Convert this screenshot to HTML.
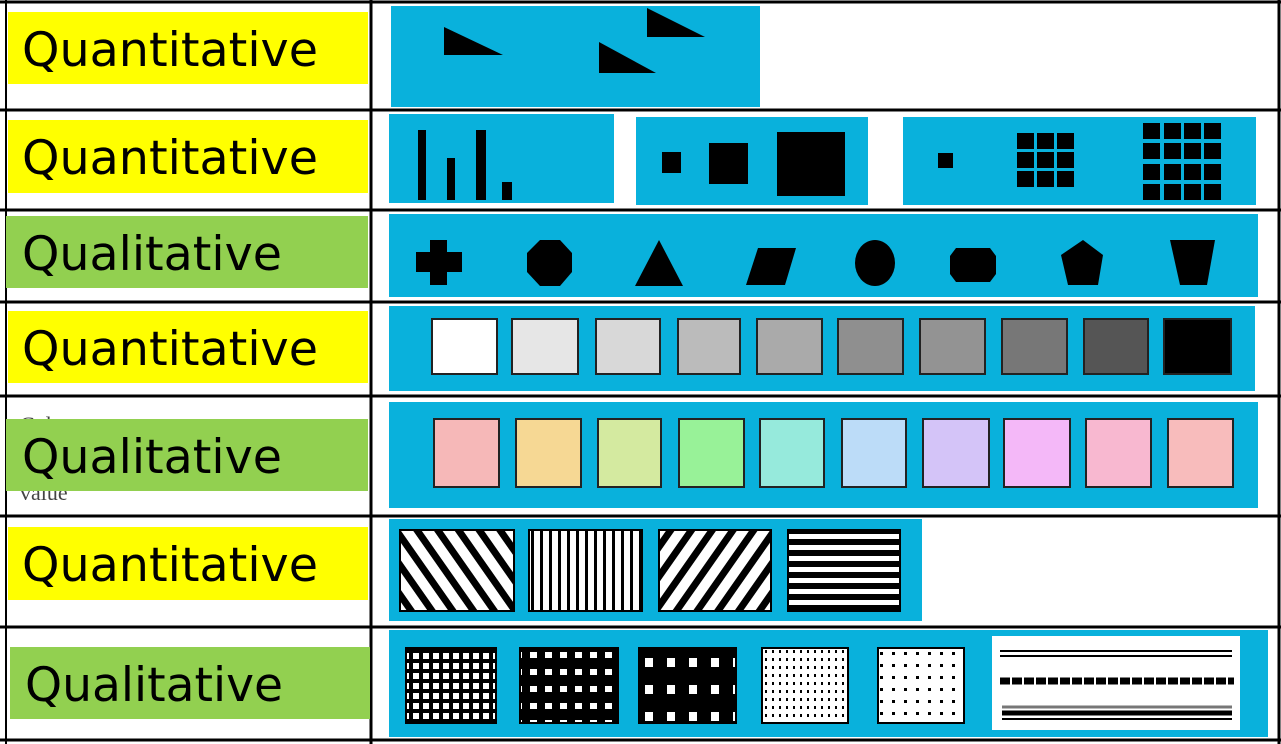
<!DOCTYPE html><html><head><style>body{margin:0;background:#fff}svg{display:block}</style></head><body>
<svg width="1281" height="744" viewBox="0 0 1281 744" xmlns="http://www.w3.org/2000/svg">
<defs>
<pattern id="d1" width="17" height="17" patternUnits="userSpaceOnUse" patternTransform="rotate(-35)"><rect width="17" height="17" fill="#fff"/><rect width="7" height="17" fill="#000"/></pattern>
<pattern id="d2" width="17" height="17" patternUnits="userSpaceOnUse" patternTransform="rotate(35)"><rect width="17" height="17" fill="#fff"/><rect width="7" height="17" fill="#000"/></pattern>
<pattern id="vv" width="9" height="10" patternUnits="userSpaceOnUse"><rect width="9" height="10" fill="#fff"/><rect width="3" height="10" fill="#000"/></pattern>
<pattern id="hh" width="10" height="11" patternUnits="userSpaceOnUse"><rect width="10" height="11" fill="#fff"/><rect width="10" height="6" fill="#000"/></pattern>
<pattern id="g1" width="10" height="10" patternUnits="userSpaceOnUse"><rect width="10" height="10" fill="#000"/><rect x="3" y="3" width="6" height="6" fill="#fff"/></pattern>
<pattern id="g2" width="15" height="17" patternUnits="userSpaceOnUse"><rect width="15" height="17" fill="#000"/><rect x="5" y="6" width="7" height="6" fill="#fff"/></pattern>
<pattern id="g3" width="22" height="27" patternUnits="userSpaceOnUse"><rect width="22" height="27" fill="#000"/><rect x="7" y="10" width="8" height="9" fill="#fff"/></pattern>
<pattern id="p1" width="7" height="8" patternUnits="userSpaceOnUse"><rect width="7" height="8" fill="#fff"/><rect x="2" y="2" width="2" height="3" fill="#000"/></pattern>
<pattern id="p2" width="12" height="12" patternUnits="userSpaceOnUse"><rect width="12" height="12" fill="#fff"/><rect x="4" y="4" width="3" height="3" fill="#000"/></pattern>
</defs>
<g fill="none" stroke="#000" stroke-width="3">
<line x1="0" y1="2" x2="1281" y2="2"/><line x1="0" y1="110" x2="1281" y2="110"/><line x1="0" y1="210" x2="1281" y2="210"/><line x1="0" y1="302" x2="1281" y2="302"/><line x1="0" y1="396" x2="1281" y2="396"/><line x1="0" y1="516" x2="1281" y2="516"/><line x1="0" y1="627" x2="1281" y2="627"/><line x1="0" y1="740" x2="1281" y2="740"/>
<line x1="371" y1="0" x2="371" y2="744"/><line x1="1279" y1="0" x2="1279" y2="744"/><line x1="6" y1="0" x2="6" y2="744" stroke-width="2"/>
</g>
<g fill="#09b1dc">
<rect x="391" y="6" width="369" height="101"/>
<rect x="389" y="114" width="225" height="89"/><rect x="636" y="117" width="232" height="88"/><rect x="903" y="117" width="353" height="88"/>
<rect x="389" y="214" width="869" height="83"/>
<rect x="389" y="306" width="866" height="85"/>
<rect x="389" y="402" width="869" height="106"/>
<rect x="389" y="519" width="533" height="102"/>
<rect x="389" y="630" width="879" height="107"/>
</g>
<g fill="#000">
<polygon points="444,27 444,55 503,55"/><polygon points="599,42 599,73 656,73"/><polygon points="647,8 647,37 705,37"/>
<rect x="418" y="130" width="8" height="70"/><rect x="447" y="158" width="8" height="42"/><rect x="476" y="130" width="10" height="70"/><rect x="502" y="182" width="10" height="18"/>
<rect x="662" y="152" width="19" height="21"/><rect x="709" y="143" width="39" height="41"/><rect x="777" y="132" width="68" height="64"/>
<rect x="938" y="153" width="15" height="15"/>
</g>
<g fill="#000">
<rect x="1017" y="133" width="17" height="16"/><rect x="1037" y="133" width="17" height="16"/><rect x="1057" y="133" width="17" height="16"/>
<rect x="1017" y="152" width="17" height="16"/><rect x="1037" y="152" width="17" height="16"/><rect x="1057" y="152" width="17" height="16"/>
<rect x="1017" y="171" width="17" height="16"/><rect x="1037" y="171" width="17" height="16"/><rect x="1057" y="171" width="17" height="16"/>
<rect x="1143" y="123" width="17" height="16"/><rect x="1164" y="123" width="17" height="16"/><rect x="1184" y="123" width="17" height="16"/><rect x="1204" y="123" width="17" height="16"/>
<rect x="1143" y="143" width="17" height="16"/><rect x="1164" y="143" width="17" height="16"/><rect x="1184" y="143" width="17" height="16"/><rect x="1204" y="143" width="17" height="16"/>
<rect x="1143" y="164" width="17" height="16"/><rect x="1164" y="164" width="17" height="16"/><rect x="1184" y="164" width="17" height="16"/><rect x="1204" y="164" width="17" height="16"/>
<rect x="1143" y="184" width="17" height="16"/><rect x="1164" y="184" width="17" height="16"/><rect x="1184" y="184" width="17" height="16"/><rect x="1204" y="184" width="17" height="16"/>
</g>
<g fill="#000">
<polygon points="430,240 447,240 447,252 462,252 462,272 447,272 447,285 430,285 430,272 416,272 416,252 430,252"/>
<polygon points="540,240 560,240 572,253 572,272 560,286 540,286 527,272 527,253"/>
<polygon points="659,240 683,286 635,286"/>
<polygon points="758,248 796,248 785,285 746,285"/>
<ellipse cx="875" cy="263" rx="20" ry="23"/>
<polygon points="956,248 990,248 996,256 996,274 990,282 956,282 950,274 950,256"/>
<polygon points="1083,240 1103,255 1098,285 1068,285 1061,255"/>
<polygon points="1170,240 1215,240 1207,285 1180,285"/>
</g>
<g stroke="#222" stroke-width="2">
<rect x="432" y="319" width="65" height="55" fill="#fff"/><rect x="512" y="319" width="66" height="55" fill="#e6e6e6"/><rect x="596" y="319" width="64" height="55" fill="#d8d8d8"/><rect x="678" y="319" width="62" height="55" fill="#bbb"/><rect x="757" y="319" width="65" height="55" fill="#aaa"/><rect x="838" y="319" width="65" height="55" fill="#8f8f8f"/><rect x="920" y="319" width="65" height="55" fill="#939393"/><rect x="1002" y="319" width="65" height="55" fill="#777"/><rect x="1084" y="319" width="64" height="55" fill="#555"/><rect x="1164" y="319" width="67" height="55" fill="#000"/>
<rect x="434" y="419" width="65" height="68" fill="#f6b8b8"/><rect x="516" y="419" width="65" height="68" fill="#f6d894"/><rect x="598" y="419" width="63" height="68" fill="#d4eaa0"/><rect x="679" y="419" width="65" height="68" fill="#98f298"/><rect x="760" y="419" width="64" height="68" fill="#96eadc"/><rect x="842" y="419" width="64" height="68" fill="#bcdcf8"/><rect x="923" y="419" width="66" height="68" fill="#d4c4f8"/><rect x="1004" y="419" width="66" height="68" fill="#f4b8f8"/><rect x="1086" y="419" width="65" height="68" fill="#f8b8d0"/><rect x="1168" y="419" width="65" height="68" fill="#f8bcbc"/>
</g>
<g stroke="#000" stroke-width="2">
<rect x="400" y="530" width="114" height="81" fill="url(#d1)"/><rect x="529" y="530" width="113" height="81" fill="url(#vv)"/><rect x="659" y="530" width="112" height="81" fill="url(#d2)"/><rect x="788" y="530" width="112" height="81" fill="url(#hh)"/>
<rect x="406" y="648" width="90" height="75" fill="url(#g1)"/><rect x="520" y="648" width="98" height="75" fill="url(#g2)"/><rect x="639" y="648" width="97" height="75" fill="url(#g3)"/><rect x="762" y="648" width="86" height="75" fill="url(#p1)"/><rect x="878" y="648" width="86" height="75" fill="url(#p2)"/>
</g>
<rect x="992" y="636" width="248" height="94" fill="#fff"/>
<g stroke="#000">
<line x1="1000" y1="651" x2="1232" y2="651" stroke-width="2"/><line x1="1000" y1="656" x2="1232" y2="656" stroke-width="2"/>
<line x1="1000" y1="681" x2="1234" y2="681" stroke-width="7" stroke-dasharray="10 2"/>
<line x1="1002" y1="707" x2="1232" y2="707" stroke-width="3" stroke="#777"/><line x1="1002" y1="713" x2="1232" y2="713" stroke-width="5"/><line x1="1002" y1="719" x2="1232" y2="719" stroke-width="2"/>
</g>
<text x="20" y="432" font-family="Liberation Serif,serif" font-size="22" fill="#444">Colour</text>
<text x="20" y="500" font-family="Liberation Serif,serif" font-size="22" fill="#444">value</text>
<g font-family="DejaVu Sans, Liberation Sans, sans-serif" font-size="47" fill="#000">
<rect x="8" y="12" width="360" height="72" fill="#ffff00"/><text x="22" y="66" textLength="296" lengthAdjust="spacingAndGlyphs">Quantitative</text>
<rect x="8" y="120" width="360" height="73" fill="#ffff00"/><text x="22" y="174" textLength="296" lengthAdjust="spacingAndGlyphs">Quantitative</text>
<rect x="6" y="216" width="362" height="72" fill="#92d050"/><text x="22" y="270" textLength="260" lengthAdjust="spacingAndGlyphs">Qualitative</text>
<rect x="8" y="311" width="360" height="72" fill="#ffff00"/><text x="22" y="365" textLength="296" lengthAdjust="spacingAndGlyphs">Quantitative</text>
<rect x="6" y="419" width="362" height="72" fill="#92d050"/><text x="22" y="473" textLength="260" lengthAdjust="spacingAndGlyphs">Qualitative</text>
<rect x="8" y="527" width="360" height="73" fill="#ffff00"/><text x="22" y="581" textLength="296" lengthAdjust="spacingAndGlyphs">Quantitative</text>
<rect x="10" y="647" width="360" height="72" fill="#92d050"/><text x="25" y="701" textLength="258" lengthAdjust="spacingAndGlyphs">Qualitative</text>
</g>
</svg>
</body></html>
